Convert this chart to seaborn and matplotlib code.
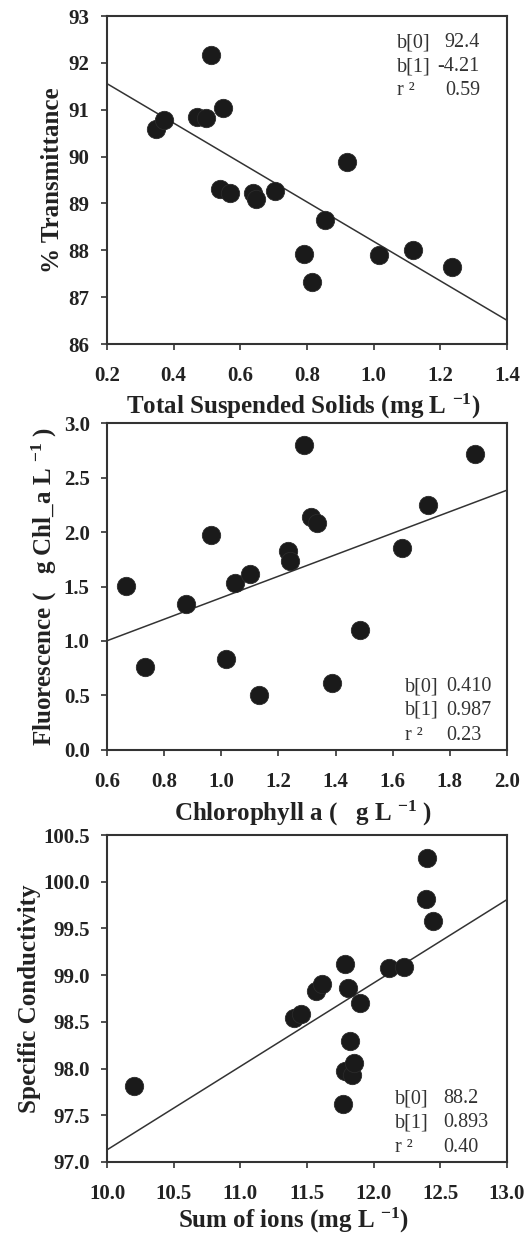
import numpy as np
import pandas as pd
import matplotlib
matplotlib.use("Agg")
import matplotlib.pyplot as plt
import seaborn as sns

# ---------------- data ----------------
tss = [0.348, 0.372, 0.513, 0.470, 0.497, 0.547, 0.540, 0.569, 0.637, 0.646,
       0.705, 0.921, 0.854, 0.791, 0.816, 1.015, 1.119, 1.234]
transmittance = [90.60, 90.78, 92.17, 90.85, 90.82, 91.03, 89.32, 89.23, 89.22, 89.10,
                 89.27, 89.88, 88.65, 87.92, 87.33, 87.90, 88.00, 87.65]
fit1 = {"b0": 92.4, "b1": -4.21, "r2": 0.59}
fit1_text = ["92.4", "-4.21", "0.59"]

chla = [0.665, 0.732, 0.877, 0.965, 1.015, 1.047, 1.100, 1.133, 1.233, 1.239,
        1.288, 1.315, 1.335, 1.386, 1.486, 1.633, 1.724, 1.887]
fluor = [1.509, 0.758, 1.341, 1.971, 0.831, 1.528, 1.616, 0.501, 1.824, 1.732,
         2.802, 2.139, 2.087, 0.614, 1.100, 1.855, 2.249, 2.719]
fit2 = {"b0": 0.410, "b1": 0.987, "r2": 0.23}
fit2_text = ["0.410", "0.987", "0.23"]

ions = [10.202, 11.402, 11.452, 11.571, 11.609, 11.785, 11.806, 11.894, 11.823, 11.785,
        11.836, 11.856, 11.773, 12.114, 12.227, 12.391, 12.399, 12.442]
cond = [97.81, 98.54, 98.58, 98.83, 98.91, 99.12, 98.86, 98.70, 98.30, 97.97,
        97.93, 98.06, 97.62, 99.08, 99.09, 99.82, 100.25, 99.58]
fit3 = {"b0": 88.2, "b1": 0.893, "r2": 0.40}
fit3_text = ["88.2", "0.893", "0.40"]

coef_labels = ["b[0]", "b[1]", "r \u00b2"]

x1_ticks = [0.2, 0.4, 0.6, 0.8, 1.0, 1.2, 1.4]
y1_ticks = [86, 87, 88, 89, 90, 91, 92, 93]
x2_ticks = [0.6, 0.8, 1.0, 1.2, 1.4, 1.6, 1.8, 2.0]
y2_ticks = [0.0, 0.5, 1.0, 1.5, 2.0, 2.5, 3.0]
x3_ticks = [10.0, 10.5, 11.0, 11.5, 12.0, 12.5, 13.0]
y3_ticks = [97.0, 97.5, 98.0, 98.5, 99.0, 99.5, 100.0, 100.5]

# ---------------- style ----------------
sns.set_theme(style="ticks")
plt.rcParams["font.family"] = ["Liberation Serif", "DejaVu Serif"]
plt.rcParams["mathtext.fontset"] = "custom"
plt.rcParams["mathtext.rm"] = "Liberation Serif:bold"
plt.rcParams["mathtext.default"] = "rm"

SPINE = "#333333"
DOT = "#1a1a1a"

fig = plt.figure(figsize=(5.29, 12.38), dpi=100)
ax_rects = [
    [0.2023, 0.7221, 0.7561, 0.2649],
    [0.2023, 0.3942, 0.7561, 0.2641],
    [0.2023, 0.0614, 0.7561, 0.2641],
]

panels = [
    dict(x=tss, y=transmittance, fit=fit1, ftxt=fit1_text,
         xt=x1_ticks, yt=y1_ticks, xfmt="{:.1f}", yfmt="{:.0f}",
         xlabel="Total Suspended Solids (mg L $^{-1}$)",
         ylabel="% Transmittance",
         ylab_x=-0.108, xlab_y=-0.146, xlab_x=0.49,
         lab_x=0.725, val_x=0.9325, val_ha="right",
         rows=[0.905, 0.832, 0.759]),
    dict(x=chla, y=fluor, fit=fit2, ftxt=fit2_text,
         xt=x2_ticks, yt=y2_ticks, xfmt="{:.1f}", yfmt="{:.1f}",
         xlabel="Chlorophyll a (   g L $^{-1}$ )",
         ylabel="Fluorescence (   g Chl_a L $^{-1}$ )",
         ylab_x=-0.12, xlab_y=-0.151, xlab_x=0.49,
         lab_x=0.745, val_x=0.8475, val_ha="left",
         rows=[0.180, 0.107, 0.030]),
    dict(x=ions, y=cond, fit=fit3, ftxt=fit3_text,
         xt=x3_ticks, yt=y3_ticks, xfmt="{:.1f}", yfmt="{:.1f}",
         xlabel="Sum of ions (mg L $^{-1}$)",
         ylabel="Specific Conductivity",
         ylab_x=-0.165, xlab_y=-0.133, xlab_x=0.465,
         lab_x=0.72, val_x=0.84, val_ha="left",
         rows=[0.180, 0.107, 0.031]),
]

for rect, p in zip(ax_rects, panels):
    ax = fig.add_axes(rect)
    df = pd.DataFrame({"x": p["x"], "y": p["y"]})
    xlim = (p["xt"][0], p["xt"][-1])
    ylim = (p["yt"][0], p["yt"][-1])
    # regression line from reported coefficients
    lx = np.array(xlim)
    ly = p["fit"]["b0"] + p["fit"]["b1"] * lx
    ax.plot(lx, ly, color="#333333", lw=1.1, zorder=2)
    sns.scatterplot(data=df, x="x", y="y", ax=ax, s=175, color=DOT,
                    edgecolor="#2a2a2a", linewidth=0.6, zorder=3, legend=False)
    ax.set_xlim(xlim)
    ax.set_ylim(ylim)
    ax.set_xticks(p["xt"])
    ax.set_yticks(p["yt"])
    ax.set_xticklabels([p["xfmt"].format(v) for v in p["xt"]])
    ax.set_yticklabels([p["yfmt"].format(v) for v in p["yt"]])
    for s in ax.spines.values():
        s.set_visible(True)
        s.set_linewidth(1.5)
        s.set_color(SPINE)
    ax.tick_params(axis="both", direction="out", length=4.5, width=1.2,
                   color=SPINE, labelsize=15, labelcolor="#222222",
                   top=False, right=False)
    ax.tick_params(axis="x", pad=11)
    ax.tick_params(axis="y", pad=8)
    for lbl in ax.get_xticklabels() + ax.get_yticklabels():
        lbl.set_fontweight("bold")
    ax.set_xlabel(p["xlabel"], fontsize=18, fontweight="bold", color="#222222")
    ax.set_ylabel(p["ylabel"], fontsize=18, fontweight="bold", color="#222222")
    ax.xaxis.set_label_coords(p["xlab_x"], p["xlab_y"])
    ax.yaxis.set_label_coords(p["ylab_x"], 0.5)
    for i, (lab, val) in enumerate(zip(coef_labels, p["ftxt"])):
        ax.text(p["lab_x"], p["rows"][i], lab, transform=ax.transAxes,
                fontsize=14.5, color="#333333", ha="left", va="baseline")
        ax.text(p["val_x"], p["rows"][i], val, transform=ax.transAxes,
                fontsize=14.5, color="#333333", ha=p["val_ha"], va="baseline")

fig.savefig("out.png", dpi=100, facecolor="white")
